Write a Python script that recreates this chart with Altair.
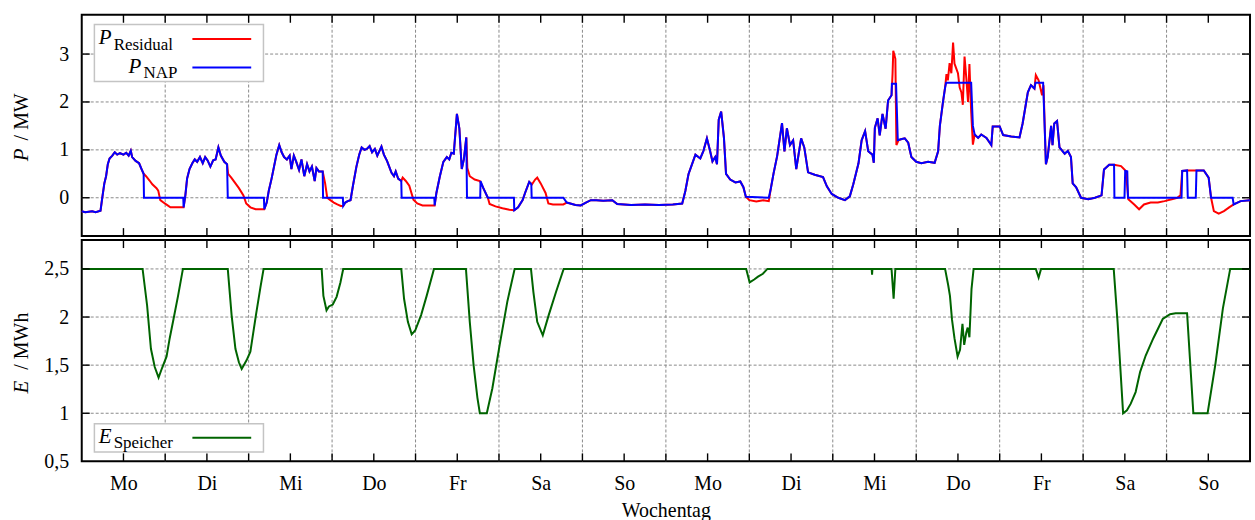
import altair as alt
import pandas as pd

FONT = "Liberation Serif"

day_names = ["Mo", "Di", "Mi", "Do", "Fr", "Sa", "So",
             "Mo", "Di", "Mi", "Do", "Fr", "Sa", "So"]

# (hour, MW) readings of the residual load
res_pts = [
    (0, -0.28), (1, -0.3), (2, -0.29), (3, -0.28), (4, -0.3), (5.4, -0.27), (5.9, 0.0), (6.5, 0.3),
    (7.0, 0.45), (7.5, 0.7), (8.0, 0.82), (8.8, 0.88), (9.5, 0.95), (10.2, 0.9), (11, 0.93), (12, 0.9),
    (12.8, 0.94), (13.5, 0.88), (14.1, 0.98), (14.5, 0.85), (15.5, 0.77), (16.5, 0.72), (17.2, 0.6),
    (17.8, 0.5), (18.5, 0.45), (19.5, 0.36), (20.3, 0.28), (21.5, 0.2), (22, 0.15), (22.6, -0.05),
    (23.5, -0.1), (24.5, -0.15), (25.5, -0.2), (27, -0.2), (28.5, -0.2), (29.3, -0.2), (29.8, 0.05),
    (30.3, 0.4), (31, 0.6), (31.8, 0.72), (32.5, 0.8), (33.2, 0.75), (34, 0.85), (34.8, 0.72),
    (35.5, 0.85), (36.2, 0.78), (37, 0.65), (37.8, 0.78), (38.5, 0.8), (39.3, 1.05), (40, 0.88),
    (41, 0.75), (41.8, 0.7), (42.1, 0.5), (43, 0.42), (44, 0.32), (45.2, 0.2), (46.5, 0.05),
    (47.3, -0.12), (48.5, -0.2), (50, -0.24), (51.5, -0.24), (52.5, -0.24), (53.2, -0.1), (53.8, 0.15),
    (54.6, 0.4), (55.3, 0.65), (56, 0.9), (56.8, 1.1), (57.5, 0.95), (58.2, 0.85), (59, 0.8),
    (59.8, 0.88), (60.3, 0.6), (61, 0.88), (61.7, 0.75), (62.5, 0.58), (63.2, 0.8), (64, 0.45),
    (64.8, 0.7), (65.5, 0.55), (66.2, 0.65), (67, 0.35), (67.5, 0.62), (68.2, 0.55), (69.3, 0.55),
    (70, 0.3), (70.6, 0.0), (71.5, -0.05), (72.5, -0.1), (73.5, -0.14), (74.5, -0.17), (75.2, -0.17),
    (75.8, -0.1), (76.5, -0.07), (77.3, -0.05), (78, 0.25), (79, 0.65), (79.8, 0.9), (80.5, 1.05),
    (81.3, 1.0), (82, 1.02), (82.8, 1.08), (83.5, 0.95), (84.3, 1.02), (85, 0.88), (86.2, 1.07),
    (86.9, 0.9), (87.8, 0.77), (89.1, 0.52), (89.8, 0.45), (90.3, 0.55), (91, 0.4), (91.9, 0.35),
    (92.3, 0.42), (93.2, 0.35), (94.2, 0.25), (95.4, -0.04), (96.5, -0.12), (98, -0.16), (100, -0.16),
    (101.5, -0.16), (102, 0.1), (103, 0.45), (104, 0.75), (105, 0.85), (105.7, 0.8), (106.3, 0.94),
    (107, 0.92), (107.9, 1.75), (108.6, 1.45), (109.3, 0.6), (109.9, 0.8), (110.6, 1.26), (110.9, 0.62),
    (111.6, 0.45), (113, 0.38), (114.5, 0.35), (115.5, 0.2), (116.8, 0.0), (117.3, -0.13), (119, -0.18),
    (121, -0.22), (123, -0.25), (124.4, -0.26), (125.5, -0.2), (126.8, -0.05), (127.5, 0.1),
    (128.7, 0.33), (129.5, 0.28), (130.4, 0.38), (131, 0.42), (132, 0.3), (133.4, 0.1), (134.2, -0.12),
    (135.5, -0.14), (137, -0.14), (138.5, -0.14), (139.5, -0.1), (140.5, -0.12), (142, -0.15),
    (143.5, -0.16), (145, -0.1), (146.4, -0.05), (148, -0.05), (150, -0.06), (152.6, -0.05),
    (154, -0.13), (158, -0.15), (162, -0.14), (166, -0.15), (170, -0.14), (172.7, -0.12), (173.6, 0.14),
    (174.5, 0.49), (176.5, 0.9), (177.9, 0.82), (178.8, 0.98), (179.8, 1.24), (180.7, 0.98),
    (181.4, 0.76), (182.2, 0.85), (182.7, 0.7), (183.2, 1.63), (183.9, 1.8), (184.7, 1.25), (185.3, 0.5),
    (186.5, 0.38), (188, 0.32), (189.4, 0.34), (190.3, 0.22), (191.0, 0.02), (192, -0.05), (194, -0.08),
    (196, -0.05), (197.6, -0.07), (198.2, 0.2), (199, 0.52), (200, 0.87), (201.4, 1.56), (202.1, 0.97),
    (202.8, 1.45), (203.7, 1.1), (204.6, 1.2), (205.5, 0.6), (206.9, 1.24), (207.8, 1.05), (208.9, 0.53),
    (210.8, 0.48), (213.2, 0.43), (214.3, 0.24), (215.7, 0.08), (217.6, 0.0), (219.5, -0.05),
    (220.9, 0.03), (221.9, 0.28), (223.4, 0.72), (224.3, 1.2), (225.3, 1.39), (226.2, 0.97), (227.4, 0.9),
    (227.8, 0.73), (228.1, 1.46), (228.9, 1.66), (229.5, 1.3), (230.3, 1.75), (231.2, 1.44),
    (231.9, 2.03), (232.9, 2.14), (233.2, 2.6), (233.4, 3.07), (234.0, 2.9), (234.3, 1.1), (234.9, 1.2),
    (235.6, 1.22), (236.7, 1.24), (237.7, 1.15), (238.6, 0.85), (240.0, 0.75), (241.5, 0.72),
    (243.4, 0.75), (245.3, 0.73), (246.3, 0.97), (246.8, 1.5), (247.7, 2.0), (248.3, 2.3), (248.7, 2.58),
    (249.1, 2.45), (249.6, 2.81), (250.1, 2.6), (250.6, 3.24), (251.0, 2.8), (251.5, 2.7), (252.0, 2.6),
    (252.5, 2.3), (253.0, 2.2), (253.4, 1.94), (253.9, 2.95), (254.4, 2.5), (254.9, 2.0), (255.3, 2.79),
    (255.8, 1.8), (256.3, 1.11), (256.8, 1.32), (257.8, 1.25), (258.7, 1.32), (260.2, 1.25),
    (261.6, 1.1), (262.0, 1.49), (264.0, 1.49), (265, 1.31), (267.3, 1.28), (269.7, 1.26), (270.6, 1.55),
    (272.1, 2.2), (273.0, 2.35), (274.0, 2.28), (274.4, 2.56), (275.2, 2.45), (276.2, 2.14),
    (276.6, 2.35), (277.3, 0.7), (277.8, 0.85), (278.8, 1.5), (279.2, 1.1), (279.7, 1.55), (280.5, 1.6),
    (281.2, 1.05), (282.7, 0.92), (283.6, 0.98), (284.5, 0.85), (285.0, 0.3), (286.0, 0.22),
    (287.4, 0.0), (289.5, -0.03), (291.4, 0.0), (293.3, 0.05), (294.0, 0.59), (295.5, 0.69),
    (296.9, 0.69), (298.9, 0.66), (300.3, 0.56), (301.0, -0.03), (302.7, -0.14), (304.1, -0.24),
    (305.5, -0.14), (307.4, -0.1), (309.5, -0.1), (311.4, -0.07), (313.5, -0.03), (315.1, 0.0),
    (316.0, 0.05), (316.5, 0.56), (317.9, 0.57), (320.5, 0.57), (322.7, 0.57), (324.1, 0.42),
    (324.8, 0.0), (325.6, -0.28), (327.0, -0.33), (328.5, -0.28), (330.0, -0.2), (331.3, -0.14),
    (333.3, -0.07), (336, -0.05),
]

# (hour, MW) readings of the grid connection power
nap_pts = [
    (0, -0.28), (1, -0.3), (2, -0.29), (3, -0.28), (4, -0.3), (5.4, -0.27), (5.9, 0.0), (6.5, 0.3),
    (7.0, 0.45), (7.5, 0.7), (8.0, 0.82), (8.8, 0.88), (9.5, 0.95), (10.2, 0.9), (11, 0.93), (12, 0.9),
    (12.8, 0.94), (13.5, 0.88), (14.1, 0.98), (14.5, 0.85), (15.5, 0.77), (16.5, 0.72), (17.2, 0.6),
    (17.8, 0.5), (17.9, 0.0), (29.2, 0.0), (29.3, -0.2), (29.8, 0.05),
    (30.3, 0.4), (31, 0.6), (31.8, 0.72), (32.5, 0.8), (33.2, 0.75), (34, 0.85), (34.8, 0.72),
    (35.5, 0.85), (36.2, 0.78), (37, 0.65), (37.8, 0.78), (38.5, 0.8), (39.3, 1.05), (40, 0.88),
    (41, 0.75), (41.8, 0.7), (42.0, 0.0), (52.4, 0.0), (52.5, -0.24), (53.2, -0.1), (53.8, 0.15),
    (54.6, 0.4), (55.3, 0.65), (56, 0.9), (56.8, 1.1), (57.5, 0.95), (58.2, 0.85), (59, 0.8),
    (59.8, 0.88), (60.3, 0.6), (61, 0.88), (61.7, 0.75), (62.5, 0.58), (63.2, 0.8), (64, 0.45),
    (64.8, 0.7), (65.5, 0.55), (66.2, 0.65), (67, 0.35), (67.5, 0.62), (68.2, 0.55), (69.3, 0.55),
    (69.4, 0.0), (75.1, 0.0), (75.2, -0.17),
    (75.8, -0.1), (76.5, -0.07), (77.3, -0.05), (78, 0.25), (79, 0.65), (79.8, 0.9), (80.5, 1.05),
    (81.3, 1.0), (82, 1.02), (82.8, 1.08), (83.5, 0.95), (84.3, 1.02), (85, 0.88), (86.2, 1.07),
    (86.9, 0.9), (87.8, 0.77), (89.1, 0.52), (89.8, 0.45), (90.3, 0.55), (91, 0.4), (91.9, 0.35),
    (92.0, 0.0), (101.4, 0.0), (101.5, -0.16), (102, 0.1), (103, 0.45), (104, 0.75), (105, 0.85),
    (105.7, 0.8), (106.3, 0.94), (107, 0.92), (107.9, 1.75), (108.6, 1.45), (109.3, 0.6), (109.9, 0.8),
    (110.6, 1.26), (110.8, 0.0), (114.6, 0.0), (114.7, 0.35), (115.5, 0.2), (116.8, 0.0), (124.3, 0.0),
    (124.4, -0.26), (125.5, -0.2), (126.8, -0.05), (127.5, 0.1), (128.7, 0.33), (129.3, 0.28),
    (129.4, 0.0), (138.5, 0.0), (139.5, -0.1), (140.5, -0.12), (142, -0.15),
    (143.5, -0.16), (145, -0.1), (146.4, -0.05), (148, -0.05), (150, -0.06), (152.6, -0.05),
    (154, -0.13), (158, -0.15), (162, -0.14), (166, -0.15), (170, -0.14), (172.7, -0.12), (173.6, 0.14),
    (174.5, 0.49), (176.5, 0.9), (177.9, 0.82), (178.8, 0.98), (179.8, 1.24), (180.7, 0.98),
    (181.4, 0.76), (182.2, 0.85), (182.7, 0.7), (183.2, 1.63), (183.9, 1.8), (184.7, 1.25), (185.3, 0.5),
    (186.5, 0.38), (188, 0.32), (189.4, 0.34), (190.3, 0.22), (191.0, 0.02), (197.6, 0.0),
    (198.2, 0.2), (199, 0.52), (200, 0.87), (201.4, 1.56), (202.1, 0.97),
    (202.8, 1.45), (203.7, 1.1), (204.6, 1.2), (205.5, 0.6), (206.9, 1.24), (207.8, 1.05), (208.9, 0.53),
    (210.8, 0.48), (213.2, 0.43), (214.3, 0.24), (215.7, 0.08), (217.6, 0.0), (219.5, -0.05),
    (220.9, 0.03), (221.9, 0.28), (223.4, 0.72), (224.3, 1.2), (225.3, 1.39), (226.2, 0.97), (227.4, 0.9),
    (227.8, 0.73), (228.1, 1.46), (228.9, 1.66), (229.5, 1.3), (230.3, 1.75), (231.2, 1.44),
    (231.9, 2.03), (232.9, 2.14), (233.0, 2.38), (234.2, 2.38), (234.7, 1.2),
    (235.6, 1.22), (236.7, 1.24), (237.7, 1.15), (238.6, 0.85), (240.0, 0.75), (241.5, 0.72),
    (243.4, 0.75), (245.3, 0.73), (246.3, 0.97), (246.8, 1.5), (247.7, 2.0), (248.3, 2.3), (248.6, 2.4),
    (255.8, 2.4), (256.3, 1.5), (256.8, 1.32), (257.8, 1.25), (258.7, 1.32), (260.2, 1.25),
    (261.6, 1.1), (262.0, 1.49), (264.0, 1.49), (265, 1.31), (267.3, 1.28), (269.7, 1.26), (270.6, 1.55),
    (272.1, 2.2), (273.0, 2.35), (274.0, 2.28), (274.3, 2.4), (276.5, 2.4),
    (277.3, 0.7), (277.8, 0.85), (278.8, 1.5), (279.2, 1.1), (279.7, 1.55), (280.5, 1.6),
    (281.2, 1.05), (282.7, 0.92), (283.6, 0.98), (284.5, 0.85), (285.0, 0.3), (286.0, 0.22),
    (287.4, 0.0), (289.5, -0.03), (291.4, 0.0), (293.3, 0.05), (294.0, 0.59), (295.5, 0.69),
    (296.9, 0.69), (297.0, 0.0), (299.9, 0.0), (300.1, 0.56), (300.7, 0.55), (300.9, 0.0),
    (316.3, 0.0), (316.5, 0.56), (317.9, 0.57), (318.1, 0.0), (320.4, 0.0), (320.6, 0.57),
    (322.7, 0.57), (324.1, 0.42), (324.8, 0.0), (331.0, 0.0), (331.3, -0.14), (333.3, -0.07),
    (336, -0.05),
]

# (hour, MWh) readings of the storage energy
e_pts = [
    (0, 2.5), (17.5, 2.5), (18.8, 2.12), (19.9, 1.67), (21.0, 1.48), (22.1, 1.37), (23.1, 1.47),
    (24.4, 1.59), (25.3, 1.78), (26.4, 1.98), (27.7, 2.22), (29.1, 2.5), (42.0, 2.5), (43.1, 2.02),
    (44.2, 1.67), (45.2, 1.53), (46.0, 1.46), (47.4, 1.55), (48.5, 1.64), (50.1, 2.02), (51.4, 2.31),
    (52.3, 2.5), (69.0, 2.5), (69.5, 2.22), (70.4, 2.07), (71.1, 2.11), (72.2, 2.13), (73.3, 2.21),
    (74.4, 2.36), (75.2, 2.5), (91.9, 2.5), (92.7, 2.19), (93.8, 1.95), (94.9, 1.82), (95.9, 1.86),
    (97.6, 2.02), (99.2, 2.22), (101.3, 2.5), (110.5, 2.5), (111.6, 1.95), (112.7, 1.5), (113.8, 1.16),
    (114.5, 1.0), (116.5, 1.0), (118.1, 1.26), (120.2, 1.71), (122.4, 2.16), (124.5, 2.5), (129.2, 2.5),
    (129.9, 2.26), (131.0, 1.95), (132.6, 1.81), (134.3, 2.02), (136.4, 2.26), (138.6, 2.5),
    (191.1, 2.5), (192.1, 2.36), (193.4, 2.39), (194.5, 2.42), (195.9, 2.45), (197.2, 2.5),
    (227.2, 2.5), (227.3, 2.44), (227.4, 2.5), (232.9, 2.5), (233.5, 2.19), (234.0, 2.5), (248.3, 2.5),
    (249.2, 2.33), (249.7, 2.22), (250.3, 1.97), (251.0, 1.78), (251.9, 1.59), (252.6, 1.66),
    (253.3, 1.93), (253.8, 1.71), (254.4, 1.84), (254.8, 1.89), (255.3, 1.79), (255.9, 2.29),
    (256.5, 2.5), (274.4, 2.5), (275.2, 2.41), (275.9, 2.5), (296.8, 2.5), (297.9, 1.95), (299.5, 1.0),
    (300.6, 1.03), (301.7, 1.1), (303.1, 1.22), (304.4, 1.43), (306.0, 1.6), (308.2, 1.78),
    (310.9, 1.98), (313.0, 2.03), (314.6, 2.04), (317.9, 2.04), (319.7, 1.0), (323.8, 1.0),
    (326.0, 1.5), (328.2, 2.09), (330.3, 2.5), (336, 2.5),
]

p_ticks = [0, 1, 2, 3]
e_ticks = [1, 1.5, 2, 2.5]
e_labels = [0.5, 1, 1.5, 2, 2.5]
day_bounds = [24 * i for i in range(1, 14)]
half_days = [12 * i for i in range(1, 28)]
mid_days = [12 + 24 * i for i in range(14)]

W, H = 1172, 222
GRID = "#8a8a8a"
LW = 2.0


def frame(pts):
    df = pd.DataFrame(pts, columns=["h", "v"])
    df["i"] = range(len(df))
    return df


res_df = frame(res_pts)
nap_df = frame(nap_pts)
e_df = frame(e_pts)
one = pd.DataFrame({"k": [0]})

xs = alt.Scale(domain=[0, 336], nice=False, zero=False)
comma = "replace(format(datum.value, '~g'), '.', ',')"


def yaxis(vals):
    return alt.Axis(values=vals, title=None, grid=False, ticks=False, tickSize=0, domain=False,
                    labelPadding=13, labelExpr=comma, labelFont=FONT, labelFontSize=20,
                    labelColor="black", labelBaseline="middle")


top_x = alt.X("h:Q", scale=xs, axis=None)
top_y = alt.Y("v:Q", scale=alt.Scale(domain=[-0.8, 3.82], nice=False, zero=False), axis=yaxis(p_ticks))

names_js = "[" + ",".join("'%s'" % d for d in day_names) + "]"
bot_x = alt.X("h:Q", scale=xs, axis=alt.Axis(
    values=mid_days, labelExpr=names_js + "[floor(datum.value / 24)]", title="Wochentag",
    ticks=False, tickSize=0, domain=False, grid=False, labelPadding=12, titlePadding=7,
    labelFont=FONT, labelFontSize=20, labelColor="black", titleFont=FONT, titleFontSize=20,
    titleFontWeight="normal", titleColor="black"))
bot_y = alt.Y("v:Q", scale=alt.Scale(domain=[0.5, 2.8], nice=False, zero=False), axis=yaxis(e_labels))


def panel_layers(x_enc, y_enc, yticks):
    xb = pd.DataFrame({"h": day_bounds})
    xt = pd.DataFrame({"h": half_days})
    yt = pd.DataFrame({"v": yticks})
    grid_v = alt.Chart(xb).mark_rule(color=GRID, strokeDash=[3, 2], strokeWidth=1).encode(x=x_enc)
    grid_h = alt.Chart(yt).mark_rule(color=GRID, strokeDash=[3, 2], strokeWidth=1).encode(y=y_enc)
    tk = dict(color="black", strokeWidth=1.4)
    ticks = [
        alt.Chart(xt).mark_rule(**tk).encode(x=x_enc, y=alt.value(0), y2=alt.value(8)),
        alt.Chart(xt).mark_rule(**tk).encode(x=x_enc, y=alt.value(H - 8), y2=alt.value(H)),
        alt.Chart(yt).mark_rule(**tk).encode(y=y_enc, x=alt.value(0), x2=alt.value(8)),
        alt.Chart(yt).mark_rule(**tk).encode(y=y_enc, x=alt.value(W - 8), x2=alt.value(W)),
    ]
    return [grid_v, grid_h], ticks


def text(s, x, y, size, italic=False, angle=0):
    kw = dict(text=s, font=FONT, fontSize=size, color="black", align="left", baseline="alphabetic")
    if italic:
        kw["fontStyle"] = "italic"
    if angle:
        kw["angle"] = angle
    return alt.Chart(one).mark_text(**kw).encode(x=alt.value(x), y=alt.value(y))


def box(y0, y1):
    return alt.Chart(one).mark_rect(fill="white", stroke="#c4c4c4", strokeWidth=1.5).encode(
        x=alt.value(12.7), x2=alt.value(182.3), y=alt.value(y0), y2=alt.value(y1))


def sample(y, color):
    return alt.Chart(one).mark_rule(color=color, strokeWidth=LW).encode(
        x=alt.value(111), x2=alt.value(170), y=alt.value(y))


def anchor(x0, x1, y0, y1):
    # invisible marker fixing the page extent
    return alt.Chart(one).mark_rect(fill="white", opacity=0).encode(
        x=alt.value(x0), x2=alt.value(x1), y=alt.value(y0), y2=alt.value(y1))


# ---- top panel
grids, ticks = panel_layers(top_x, top_y, p_ticks)
red = alt.Chart(res_df).mark_line(color="#ff0000", strokeWidth=LW).encode(x=top_x, y=top_y, order="i:Q")
blue = alt.Chart(nap_df).mark_line(color="#0000ff", strokeWidth=LW).encode(x=top_x, y=top_y, order="i:Q")
top = alt.layer(
    anchor(-81, -80, -13, -12), anchor(W + 1, W + 2, -13, -12),
    *grids, red, blue, *ticks,
    box(9.7, 67), sample(24.3, "#ff0000"), sample(53, "#0000ff"),
    text("P", 17, 29, 21, italic=True), text("Residual", 32, 35, 17),
    text("P", 47, 58, 21, italic=True), text("NAP", 62, 63, 17),
    text("P", -54, 147, 21, italic=True, angle=270), text("/ MW", -54, 126, 20, angle=270),
).properties(width=W, height=H)

# ---- bottom panel
grids_b, ticks_b = panel_layers(bot_x, bot_y, e_ticks)
green = alt.Chart(e_df).mark_line(color="#006400", strokeWidth=LW).encode(x=bot_x, y=bot_y, order="i:Q")
bottom = alt.layer(
    anchor(-81, -80, H + 58, H + 59),
    *grids_b, green, *ticks_b,
    box(184.3, 212.7), sample(198.3, "#006400"),
    text("E", 17, 204, 21, italic=True), text("Speicher", 32, 209, 17),
    text("E", -54, 154, 21, italic=True, angle=270), text("/ MWh", -54, 130, 20, angle=270),
).properties(width=W, height=H)

chart = alt.vconcat(top, bottom, spacing=4, bounds="flush").properties(
    padding=0,
    background="white",
).configure_view(stroke="black", strokeWidth=2)

chart.save("out.html", embed_options={"renderer": "svg", "actions": False})
